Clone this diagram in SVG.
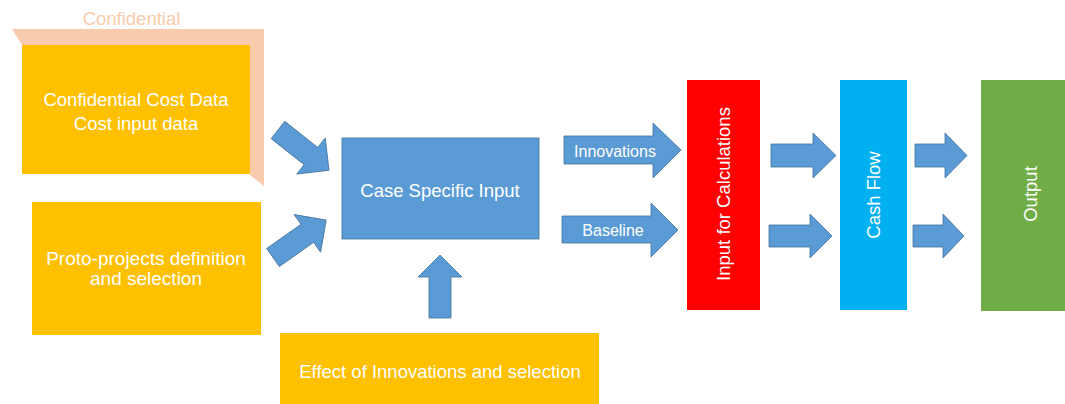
<svg xmlns="http://www.w3.org/2000/svg" width="1065" height="404" viewBox="0 0 1065 404">
  <style>
    .t { font-family: "Liberation Sans", Arial, sans-serif; fill: #ffffff; text-anchor: middle; dominant-baseline: central; font-size: 18.5px; }
    .s { font-size: 16px; }
    .yel { fill: #FFC000; }
    .arr { fill: #5B9BD5; stroke: #41719C; stroke-width: 0.8; }
  </style>
  <defs>
    <polygon id="diag" points="0,-11 42,-11 42,-23 65,0 42,23 42,11 0,11"/>
  </defs>
  <rect width="1065" height="404" fill="#ffffff"/>

  <g id="confidential">
    <polygon points="12,29 264,29 264,186 250,175 250,45 22,45" fill="#F8CBAD"/>
    <text x="131.5" y="18" class="t" style="fill:#F8CBAD;font-size:18.5px">Confidential</text>
    <rect x="22" y="45" width="228" height="129" class="yel"/>
    <text x="136" y="99" class="t">Confidential Cost Data</text>
    <text x="136" y="123" class="t">Cost input data</text>
  </g>

  <g id="proto">
    <rect x="32" y="202" width="229" height="133" class="yel"/>
    <text x="146" y="258" class="t" style="font-size:19px">Proto-projects definition</text>
    <text x="146" y="278" class="t" style="font-size:19px">and selection</text>
  </g>

  <g id="effect">
    <rect x="280" y="333" width="319" height="75" class="yel"/>
    <text x="440" y="371" class="t">Effect of Innovations and selection</text>
  </g>

  <g id="case">
    <rect x="342" y="138" width="197" height="101" fill="#5B9BD5" stroke="#41719C" stroke-width="0.8"/>
    <text x="440" y="190" class="t">Case Specific Input</text>
  </g>

  <g id="inputcalc">
    <rect x="687" y="80" width="73" height="230" fill="#FF0000"/>
    <text x="0" y="0" class="t" transform="translate(723.5,194) rotate(-90)">Input for Calculations</text>
  </g>

  <g id="cashflow">
    <rect x="840" y="80" width="67" height="230" fill="#00B0F0"/>
    <text x="0" y="0" class="t" transform="translate(873.5,195) rotate(-90)">Cash Flow</text>
  </g>

  <g id="output">
    <rect x="981" y="80" width="98" height="231" fill="#70AD47"/>
    <text x="0" y="0" class="t" transform="translate(1030,194) rotate(-90)">Output</text>
  </g>

  <g id="connectors">
    <use href="#diag" class="arr" transform="translate(278,130) rotate(38.3)"/>
    <use href="#diag" class="arr" transform="translate(273,257.5) rotate(-35.1)"/>
    <polygon class="arr" points="429,318 429,277 418,277 440,255 462,277 451,277 451,318"/>
    <polygon class="arr" points="564,136 653,136 653,123 681,150 653,178 653,164 564,164"/>
    <text x="615" y="151" class="t s">Innovations</text>
    <polygon class="arr" points="562,216 651,216 651,203 678,230 651,257 651,243 562,243"/>
    <text x="613" y="230" class="t s">Baseline</text>
    <polygon class="arr" points="771,144 813,144 813,133 836,155.5 813,178 813,167 771,167"/>
    <polygon class="arr" points="769,225 810,225 810,214 832,236 810,258 810,247 769,247"/>
    <polygon class="arr" points="915,144 945,144 945,133 967,155.5 945,178 945,167 915,167"/>
    <polygon class="arr" points="913,225 943,225 943,214 964,236 943,258 943,247 913,247"/>
  </g>
</svg>
